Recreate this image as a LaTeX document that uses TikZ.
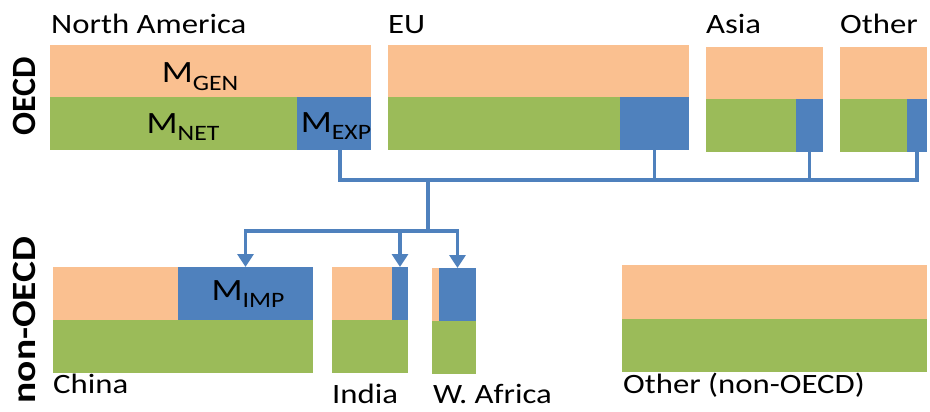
\documentclass[tikz,border=0pt]{standalone}
\usepackage{fontspec}
\setmainfont{Carlito}
\usetikzlibrary{arrows.meta}
\definecolor{gen}{HTML}{FAC090}
\definecolor{net}{HTML}{9BBB59}
\definecolor{flux}{HTML}{4F81BD}
\newcommand\wide[1]{\scalebox{1.17}[1]{#1}}
\newcommand\mm[1]{\wide{\fontsize{31}{31}\selectfont M\raisebox{-7.5pt}{\fontsize{22}{22}\selectfont #1}}}
\newcommand\reg[1]{\wide{\fontsize{28}{28}\selectfont #1}}

\begin{document}
\begin{tikzpicture}[x=1pt,y=-1pt]%
        \useasboundingbox (0,0) rectangle (930,412);%%
        % OECD regions
        \fill[gen] (50,45) rectangle (371,97);%%
        \fill[net] (50,97) rectangle (297,150);%%
        \fill[gen] (388,45) rectangle (689,97);%%
        \fill[net] (388,97) rectangle (620,150);%%
        \fill[gen] (706,47) rectangle (823,99);%%
        \fill[net] (706,99) rectangle (796,152);%%
        \fill[gen] (840,47) rectangle (927,99);%%
        \fill[net] (840,99) rectangle (907,152);%%
        % non-OECD regions
        \fill[gen] (53,267) rectangle (178,320);%%
        \fill[net] (53,320) rectangle (313,373);%%
        \fill[gen] (332,267) rectangle (392,320);%%
        \fill[net] (332,320) rectangle (408,373);%%
        \fill[gen] (432,268) rectangle (439,321);%%
        \fill[net] (432,321) rectangle (476,374);%%
        \fill[gen] (622,265) rectangle (927,319);%%
        \fill[net] (622,319) rectangle (927,372);%%
        \begin{scope}[inner sep=0pt,outer sep=0pt]
        \tikzstyle{every node}=[fill=flux,minimum height=53] %%
        \node[minimum width=74] (naexp) at (334,123.5) {}; %%
        \node[minimum width=69] (euexp) at (654.5,123.5) {}; %%
        \node[minimum width=27] (asiaexp) at (809.5,125.5) {}; %%
        \node[minimum width=20] (othexp) at (917,125.5) {}; %%
        \node[minimum width=135] (chnimp) at (245.5,293.5) {}; %%
        \node[minimum width=16] (indimp) at (400,293.5) {}; %%
        \node[minimum width=37] (wafimp) at (457.5,294.5) {}; %%
        \end{scope}
        \begin{scope}[inner sep=0pt]
        \tikzstyle{every node}=[anchor=base] %%
        \node (mgen) at (200,83)  {\mm{GEN}}; %%
        \node (mnet) at (183,133)  {\mm{NET}}; %%
        \node (mexp) at (336,132)  {\mm{EXP}}; %%
        \node (mimp) at (248,300)  {\mm{IMP}}; %%
        \end{scope}
        \begin{scope}[inner sep=0pt]
        \tikzstyle{every node}=[anchor=base west] %%
        \node (na) at (51,34)  {\reg{North America}}; %%
        \node (eu) at (388,34)  {\reg{EU}}; %%
        \node (asia) at (706,34)  {\reg{Asia}}; %%
        \node (oth) at (840,34)  {\reg{Other}}; %%
        \node (chn) at (53,393)  {\reg{China}}; %%
        \node (ind) at (332,403)  {\reg{India}}; %%
        \node (waf) at (433,403)  {\reg{W. Africa}}; %%
        \node (othn) at (623,393)  {\reg{Other (non-OECD)}}; %%
        \end{scope}
        \begin{scope}[inner sep=0pt]
        \tikzstyle{every node}=[rotate=90,font=\bfseries\fontsize{34}{34}\selectfont] %%
        \node (oecd) at (24,96)  {OECD}; %%
        \node (noecd) at (24,320)  {\scalebox{1.16}[1]{non-OECD}}; %%
        \end{scope}
        % trade links
        \tikzstyle{link}=[flux,line width=3.5pt] %%
        \tikzstyle{feed}=[link,-{Triangle[width=16pt,length=13pt]}] %%
        \coordinate (bus) at (428,180); %%
        \coordinate (split) at (428,231); %%
        \draw[link] ([xshift=6pt]naexp.south) |- (bus) -| (othexp.south); %%
        \draw[link] (euexp.south) -- (euexp.south |- bus); %%
        \draw[link] (asiaexp.south) -- (asiaexp.south |- bus); %%
        \draw[link] (bus) -- (split); %%
        \draw[feed] (split) -| (chnimp.north); %%
        \draw[feed] (split) -| (indimp.north); %%
        \draw[feed] (split) -| (wafimp.north); %%
\end{tikzpicture}
\end{document}
